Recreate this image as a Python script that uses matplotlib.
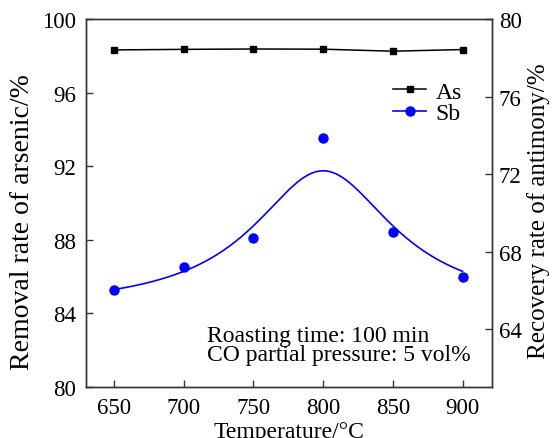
import numpy as np
import matplotlib
matplotlib.use('Agg')
import matplotlib.pyplot as plt

plt.rcParams['font.family'] = ['Liberation Serif', 'DejaVu Serif']

# data
temperature = [650, 700, 750, 800, 850, 900]
as_removal = [98.33, 98.36, 98.38, 98.37, 98.26, 98.35]     # left axis, %
sb_recovery = [66.0, 67.18, 68.68, 73.84, 68.99, 66.7]      # right axis, %

# Lorentz fit through the Sb points (parameters)
fit_y0 = 65.0
fit_amp = 7.17
fit_xc = 800.0
fit_w = 61.7

edge = '#333333'

fig = plt.figure(figsize=(5.52, 4.39), dpi=100)
ax = fig.add_axes([0.156, 0.116, 0.735, 0.838])
ax2 = ax.twinx()

ax.plot(temperature, as_removal, color='black', marker='s', markersize=5,
        linewidth=1.1, label='As')

x_fit = np.linspace(temperature[0], temperature[-1], 300)
y_fit = fit_y0 + fit_amp / (1 + ((x_fit - fit_xc) / fit_w) ** 2)
ax2.plot(x_fit, y_fit, color='#0000ff', linewidth=1.2)
ax2.plot(temperature, sb_recovery, linestyle='none', marker='o', markersize=6.5,
         color='#0000ff')

ax.set_xlim(630, 921)
ax.set_ylim(80, 100)
ax2.set_ylim(61, 80)
ax.set_xticks([650, 700, 750, 800, 850, 900])
ax.set_yticks([80, 84, 88, 92, 96, 100])
ax2.set_yticks([64, 68, 72, 76, 80])

for a in (ax, ax2):
    for s in a.spines.values():
        s.set_color(edge)
        s.set_linewidth(1.0)
    a.tick_params(direction='in', length=5, width=1.0, color=edge, labelsize=16.5, pad=7)
ax2.tick_params(pad=5)

ax.set_xlabel('Temperature/°C', fontsize=17)
ax.xaxis.set_label_coords(0.5, -0.093)
ax.set_ylabel('Removal rate of arsenic/%', fontsize=20)
ax.yaxis.set_label_coords(-0.125, 0.45)
ax2.set_ylabel('Recovery rate of antimony/%', fontsize=18)
ax2.yaxis.set_label_coords(1.087, 0.48)

# legend with line + marker for both series
h1 = plt.Line2D([], [], color='black', marker='s', markersize=5, linewidth=1.1)
h2 = plt.Line2D([], [], color='#0000ff', marker='o', markersize=6.5, linewidth=1.2)
ax.legend([h1, h2], ['As', 'Sb'], loc='upper left', bbox_to_anchor=(0.757, 0.832),
          frameon=False, fontsize=17, handlelength=1.4, handletextpad=0.4,
          labelspacing=0.0, borderpad=0, borderaxespad=0)

ax.text(0.298, 0.06, 'Roasting time: 100 min\nCO partial pressure: 5 vol%',
        transform=ax.transAxes, fontsize=17, ha='left', va='bottom', linespacing=0.9)

fig.savefig('out.png', dpi=100)
